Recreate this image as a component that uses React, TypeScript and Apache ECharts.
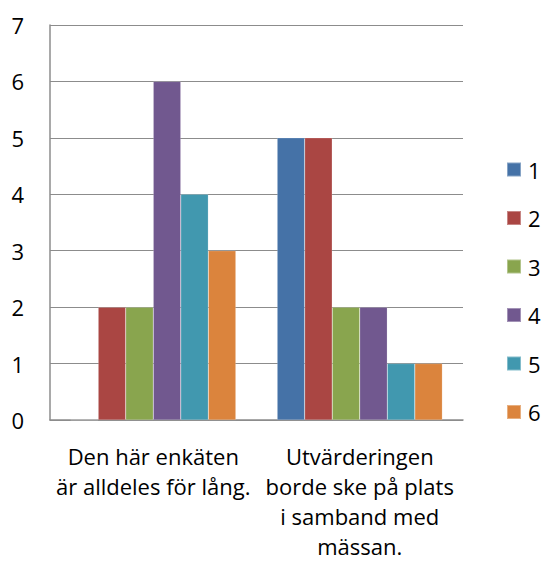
import React, { useEffect, useRef } from "react";
import * as echarts from "echarts";

const categories = [
  "Den här enkäten\när alldeles för lång.",
  "Utvärderingen\nborde ske på plats\ni samband med\nmässan.",
];
const seriesNames = ["1", "2", "3", "4", "5", "6"];
const seriesValues = [
  [0, 5],
  [2, 5],
  [2, 2],
  [6, 2],
  [4, 1],
  [3, 1],
];
const colors = ["#4572A7", "#AA4643", "#89A54E", "#71588F", "#4198AF", "#DB843D"];

export default function App() {
  const ref = useRef<HTMLDivElement>(null);
  useEffect(() => {
    const chart = echarts.init(ref.current!, null, { renderer: "svg" });
    const font = "Open Sans";
    chart.setOption({
      animation: false,
      textStyle: { fontFamily: font },
      grid: { left: 50, right: 80, top: 25, bottom: 141, containLabel: false },
      legend: {
        orient: "vertical",
        left: 506,
        top: 158.5,
        padding: 0,
        itemWidth: 14,
        itemHeight: 14,
        itemGap: 26.5,
        icon: "rect",
        data: seriesNames,
        textStyle: { fontSize: 22, color: "#000", fontFamily: font, padding: [0, 0, 0, 2] },
      },
      xAxis: {
        type: "category",
        data: categories,
        axisLine: { show: true, lineStyle: { color: "#8c8c8c", width: 1.5 } },
        axisTick: { show: false },
        axisLabel: {
          interval: 0,
          color: "#000",
          fontSize: 22,
          lineHeight: 30,
          margin: 21,
          fontFamily: font,
        },
      },
      yAxis: {
        type: "value",
        min: 0,
        max: 7,
        interval: 1,
        axisLine: { show: true, lineStyle: { color: "#8c8c8c", width: 1.5 } },
        axisTick: { show: false },
        splitLine: { show: true, lineStyle: { color: "#8c8c8c", width: 1.2 } },
        axisLabel: { color: "#000", fontSize: 22, margin: 26, fontFamily: font },
      },
      series: seriesNames.map((name, i) => ({
        name,
        type: "bar",
        data: seriesValues[i],
        barGap: "0%",
        barCategoryGap: "20%",
        itemStyle: { color: colors[i], borderColor: "rgba(255,255,255,0.35)", borderWidth: 0.5 },
      })),
    });
    return () => chart.dispose();
  }, []);
  return <div ref={ref} style={{ width: 543, height: 561, position: "absolute", left: 0, top: 0 }} />;
}
